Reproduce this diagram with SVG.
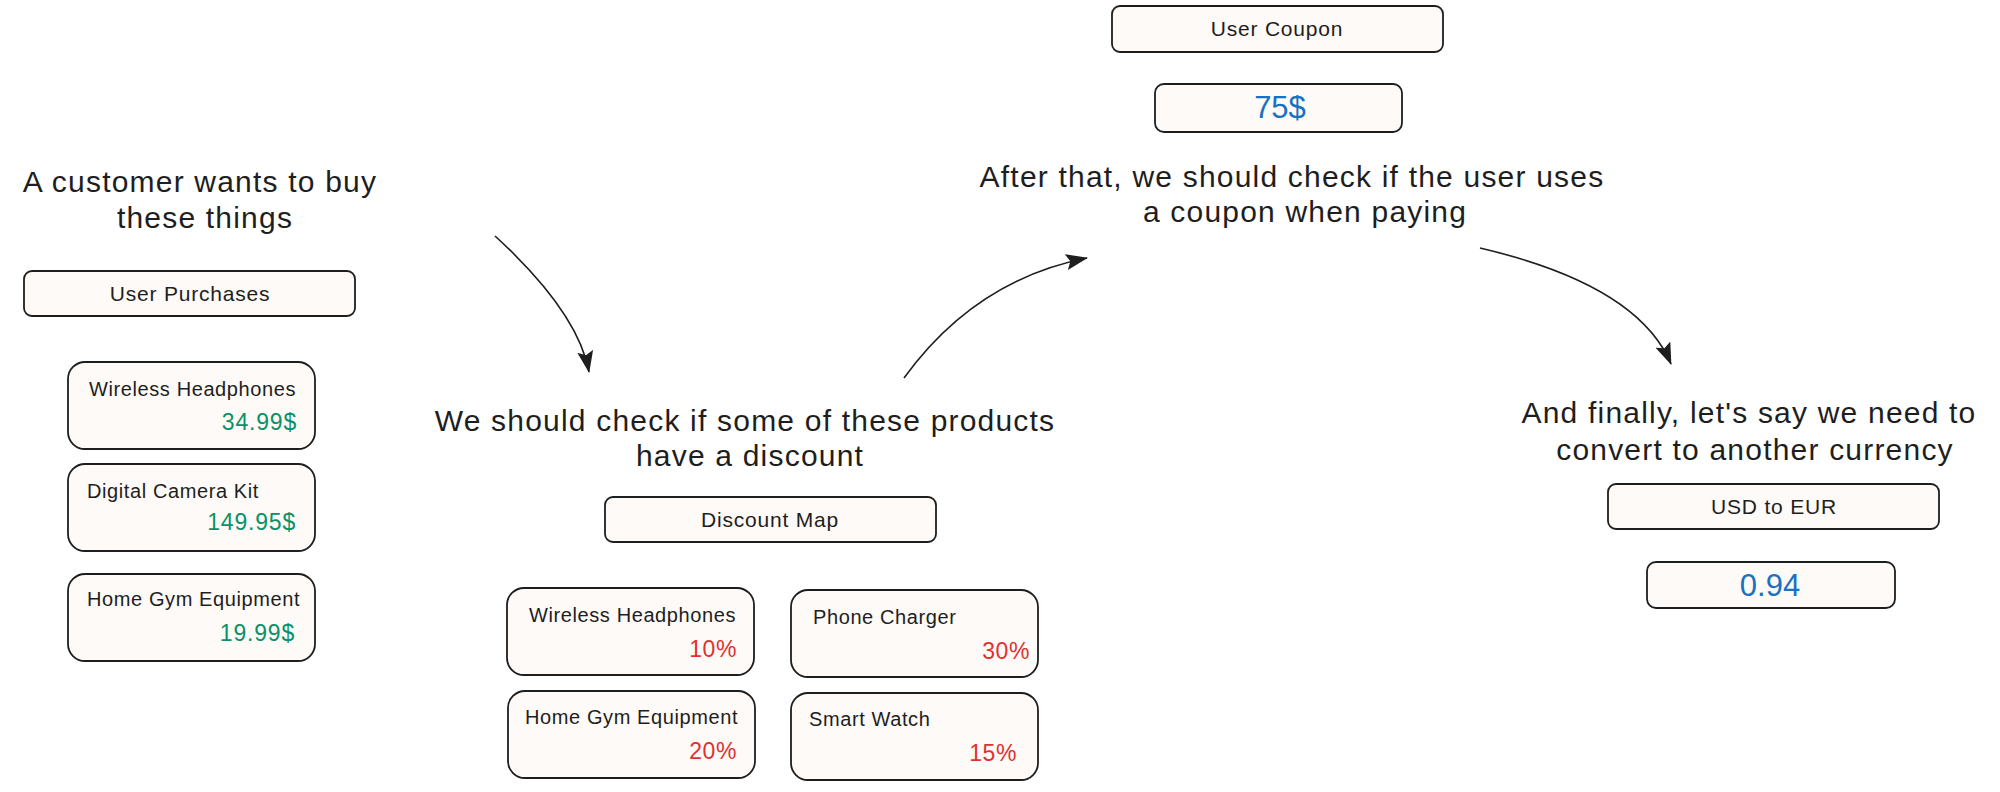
<svg xmlns="http://www.w3.org/2000/svg" width="2000" height="792" viewBox="0 0 2000 792">
<defs>
<marker id="ah" viewBox="0 0 22 16" refX="21" refY="8" markerWidth="22" markerHeight="16" markerUnits="userSpaceOnUse" orient="auto">
<path d="M0,0 L22,8 L0,16 L4,8 Z" fill="#1e1e1e"/>
</marker>
</defs>
<style>
text{font-family:"Liberation Sans","Noto Sans",sans-serif;fill:#1e1e1e}
.box{fill:#fdfaf7;stroke:#1e1e1e;stroke-width:1.8}
.title{font-size:30px;letter-spacing:1.2px;text-anchor:middle}
.label{font-size:21px;letter-spacing:0.8px;text-anchor:middle}
.item{font-size:20px;letter-spacing:0.6px}
.green{fill:#099268;font-size:23px;letter-spacing:0.8px;text-anchor:end}
.red{fill:#e03131;font-size:23px;letter-spacing:0.6px;text-anchor:end}
.blue{fill:#1971c2;font-size:31px;text-anchor:middle}
.conn{fill:none;stroke:#1e1e1e;stroke-width:1.6}
</style>
<rect width="2000" height="792" fill="#ffffff"/>

<g id="intro-text">
<text class="title" x="200" y="192">A customer wants to buy</text>
<text class="title" x="205" y="228">these things</text>
</g>
<g id="user-purchases">
<rect class="box" x="24" y="271" width="331" height="45" rx="8"/>
<text class="label" x="190" y="301">User Purchases</text>
</g>
<g id="purchase-headphones">
<rect class="box" x="68" y="362" width="247" height="87" rx="17"/>
<text class="item" x="89" y="396">Wireless Headphones</text>
<text class="green" x="297" y="430">34.99$</text>
</g>
<g id="purchase-camera">
<rect class="box" x="68" y="464" width="247" height="87" rx="17"/>
<text class="item" x="87" y="498">Digital Camera Kit</text>
<text class="green" x="296" y="530">149.95$</text>
</g>
<g id="purchase-gym">
<rect class="box" x="68" y="574" width="247" height="87" rx="17"/>
<text class="item" x="87" y="606">Home Gym Equipment</text>
<text class="green" x="295" y="641">19.99$</text>
</g>

<g id="discount-text">
<text class="title" x="745" y="431">We should check if some of these products</text>
<text class="title" x="750" y="466">have a discount</text>
</g>
<g id="discount-map">
<rect class="box" x="605" y="497" width="331" height="45" rx="8"/>
<text class="label" x="770" y="527">Discount Map</text>
</g>
<g id="discount-headphones">
<rect class="box" x="507" y="588" width="247" height="87" rx="17"/>
<text class="item" x="529" y="622">Wireless Headphones</text>
<text class="red" x="737" y="657">10%</text>
</g>
<g id="discount-charger">
<rect class="box" x="791" y="590" width="247" height="87" rx="17"/>
<text class="item" x="813" y="624">Phone Charger</text>
<text class="red" x="1030" y="659">30%</text>
</g>
<g id="discount-gym">
<rect class="box" x="508" y="691" width="247" height="87" rx="17"/>
<text class="item" x="525" y="724">Home Gym Equipment</text>
<text class="red" x="737" y="759">20%</text>
</g>
<g id="discount-watch">
<rect class="box" x="791" y="693" width="247" height="87" rx="17"/>
<text class="item" x="809" y="726">Smart Watch</text>
<text class="red" x="1017" y="761">15%</text>
</g>

<g id="coupon-text">
<text class="title" x="1292" y="187">After that, we should check if the user uses</text>
<text class="title" x="1305" y="222">a coupon when paying</text>
</g>
<g id="user-coupon">
<rect class="box" x="1112" y="6" width="331" height="46" rx="8"/>
<text class="label" x="1277" y="36">User Coupon</text>
</g>
<g id="coupon-value">
<rect class="box" x="1155" y="84" width="247" height="48" rx="9"/>
<text class="blue" x="1280" y="118">75$</text>
</g>

<g id="currency-text">
<text class="title" x="1749" y="423">And finally, let's say we need to</text>
<text class="title" x="1755" y="460">convert to another currency</text>
</g>
<g id="usd-to-eur">
<rect class="box" x="1608" y="484" width="331" height="45" rx="8"/>
<text class="label" x="1774" y="514">USD to EUR</text>
</g>
<g id="rate-value">
<rect class="box" x="1647" y="562" width="248" height="46" rx="9"/>
<text class="blue" x="1770" y="596">0.94</text>
</g>

<g id="connectors">
<path class="conn" d="M495 236 Q578 312 589 372" marker-end="url(#ah)"/>
<path class="conn" d="M904 378 Q975 280 1087 258" marker-end="url(#ah)"/>
<path class="conn" d="M1480 248 Q1638 285 1671 364" marker-end="url(#ah)"/>
</g>
</svg>
